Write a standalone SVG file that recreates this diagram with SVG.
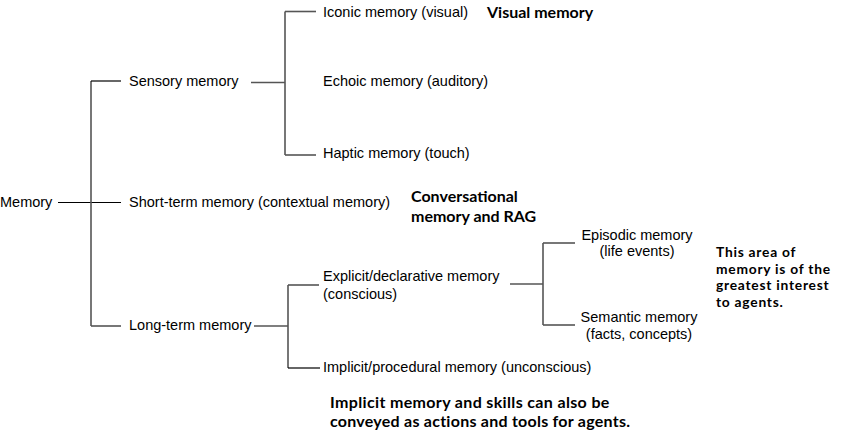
<svg xmlns="http://www.w3.org/2000/svg" width="841" height="435" viewBox="0 0 841 435">
<style>
.t{font-family:"Liberation Sans",Arial,sans-serif;font-size:14.5px;fill:#000;dominant-baseline:central}
.c{text-anchor:middle}
.b{font-family:Lato,"Open Sans",sans-serif;font-weight:bold;font-size:16px;fill:#000;dominant-baseline:central}
.s{font-size:13.8px;letter-spacing:0.75px}
.k{stroke:#000;stroke-width:1.2;fill:none}
.g{stroke:#555;stroke-width:1.6;fill:none}
</style>
<rect width="841" height="435" fill="#fff"/>
<g id="connectors">
<line class="k" x1="58" y1="202.5" x2="121" y2="202.5"/>
<line class="g" x1="91" y1="81" x2="91" y2="326"/>
<line class="k" x1="91" y1="81" x2="121" y2="81"/>
<line class="g" x1="91" y1="326" x2="121" y2="326"/>
<line class="g" x1="251" y1="82.5" x2="285" y2="82.5"/>
<line class="g" x1="285" y1="11.5" x2="285" y2="155"/>
<line class="g" x1="285" y1="11.5" x2="316" y2="11.5"/>
<line class="g" x1="285" y1="155" x2="316" y2="155"/>
<line class="g" x1="254" y1="326" x2="288" y2="326"/>
<line class="g" x1="288" y1="285" x2="288" y2="368"/>
<line class="g" x1="288" y1="285" x2="319" y2="285"/>
<line class="k" x1="288" y1="368" x2="320" y2="368"/>
<line class="k" x1="510" y1="284" x2="543" y2="284"/>
<line class="g" x1="543" y1="243" x2="543" y2="325"/>
<line class="g" x1="543" y1="243" x2="575" y2="243"/>
<line class="g" x1="543" y1="325" x2="575" y2="325"/>
</g>
<g id="memory"><text class="t" x="0" y="202">Memory</text></g>
<g id="sensory"><text class="t" x="129" y="81">Sensory memory</text></g>
<g id="iconic"><text class="t" x="323" y="12">Iconic memory (visual)</text></g>
<g id="echoic"><text class="t" x="323" y="81">Echoic memory (auditory)</text></g>
<g id="haptic"><text class="t" x="323" y="153">Haptic memory (touch)</text></g>
<g id="shortterm"><text class="t" x="129" y="202">Short-term memory (contextual memory)</text></g>
<g id="longterm"><text class="t" x="129" y="325">Long-term memory</text></g>
<g id="explicit"><text class="t" x="323" y="276">Explicit/declarative memory</text><text class="t" x="323" y="294">(conscious)</text></g>
<g id="implicit"><text class="t" x="323" y="367">Implicit/procedural memory (unconscious)</text></g>
<g id="episodic"><text class="t c" x="637" y="235">Episodic memory</text><text class="t c" x="637" y="251">(life events)</text></g>
<g id="semantic"><text class="t c" x="639" y="317">Semantic memory</text><text class="t c" x="639" y="334">(facts, concepts)</text></g>
<g id="note-visual"><text class="b" x="487" y="11">Visual memory</text></g>
<g id="note-conversational"><text class="b" x="411" y="195">Conversational</text><text class="b" x="411" y="215">memory and RAG</text></g>
<g id="note-agents"><text class="b s" x="716" y="251">This area of</text><text class="b s" x="716" y="268">memory is of the</text><text class="b s" x="716" y="284.5">greatest interest</text><text class="b s" x="716" y="301">to agents.</text></g>
<g id="note-implicit"><text class="b" x="330" y="401" letter-spacing="0.35">Implicit memory and skills can also be</text><text class="b" x="330" y="420" letter-spacing="0.25">conveyed as actions and tools for agents.</text></g>
</svg>
